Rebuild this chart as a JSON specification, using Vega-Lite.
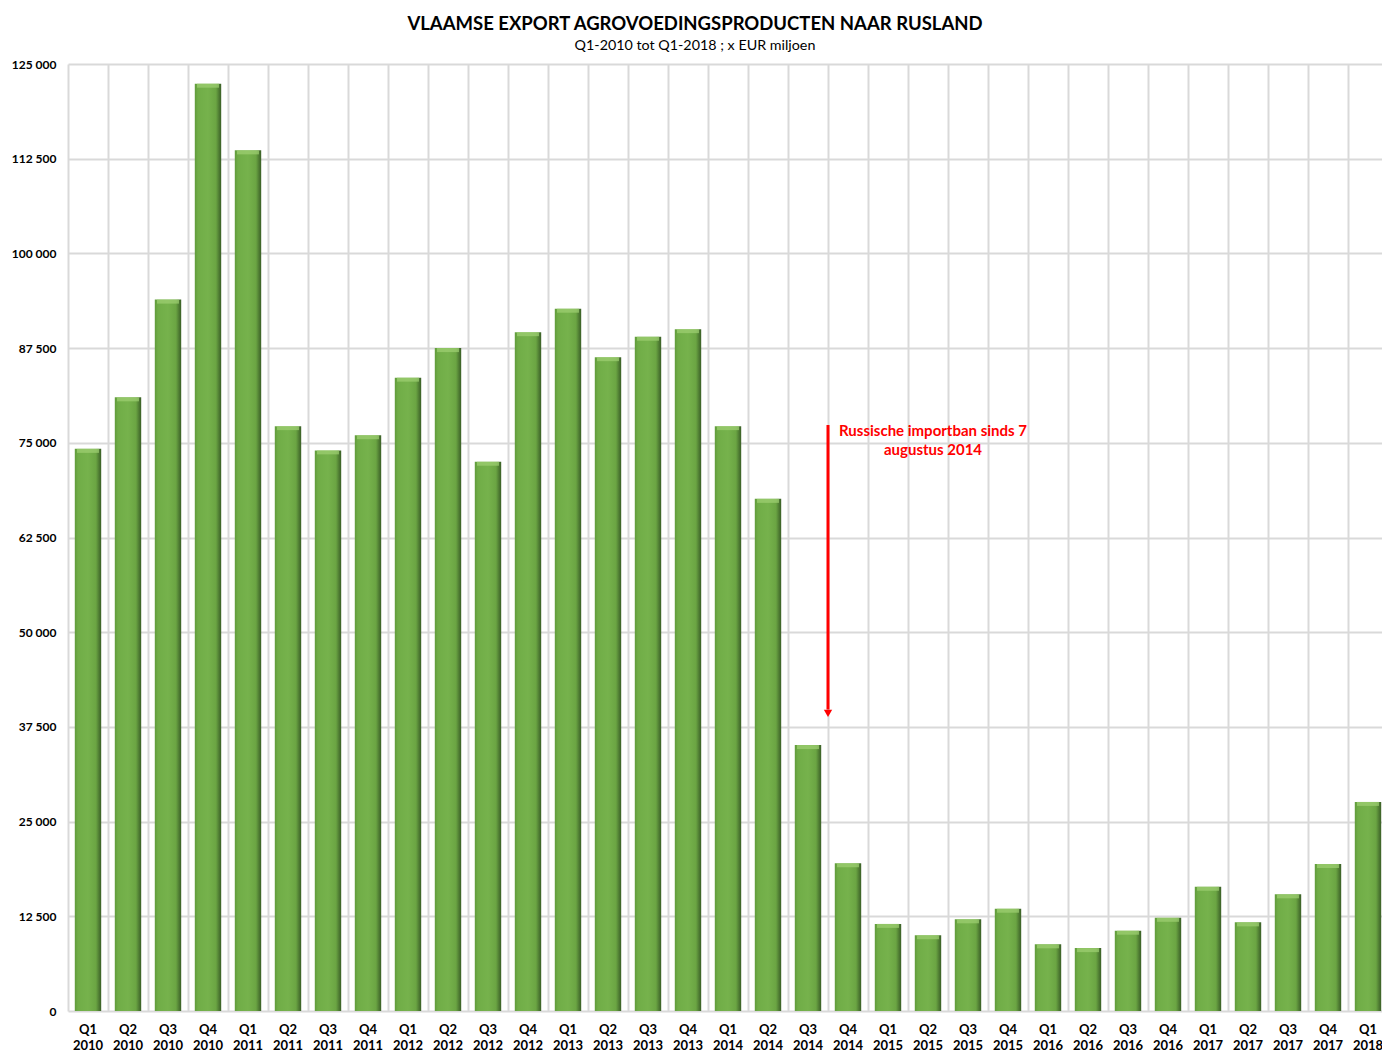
{
  "$schema": "https://vega.github.io/schema/vega-lite/v6.json",
  "width": 1314,
  "height": 947,
  "autosize": {"type": "none"},
  "padding": {"left": 68, "top": 64, "right": 0, "bottom": 41},
  "background": "white",
  "config": {"font": "Lato", "view": {"stroke": null}},
  "title": {
    "text": "VLAAMSE EXPORT AGROVOEDINGSPRODUCTEN NAAR RUSLAND",
    "subtitle": "Q1-2010 tot Q1-2018 ; x EUR miljoen",
    "anchor": "middle",
    "dx": -30,
    "offset": 5,
    "font": "Lato",
    "fontSize": 18.5,
    "fontWeight": "bold",
    "color": "#000000",
    "subtitleFont": "Lato",
    "subtitleFontSize": 14.3,
    "subtitleColor": "#000000",
    "subtitlePadding": 5
  },
  "datasets": {
    "main": [
      {"q": "Q1 2010", "v": 74200},
      {"q": "Q2 2010", "v": 81000},
      {"q": "Q3 2010", "v": 93900},
      {"q": "Q4 2010", "v": 122400},
      {"q": "Q1 2011", "v": 113600},
      {"q": "Q2 2011", "v": 77200},
      {"q": "Q3 2011", "v": 74000},
      {"q": "Q4 2011", "v": 76000},
      {"q": "Q1 2012", "v": 83600},
      {"q": "Q2 2012", "v": 87500},
      {"q": "Q3 2012", "v": 72500},
      {"q": "Q4 2012", "v": 89600},
      {"q": "Q1 2013", "v": 92700},
      {"q": "Q2 2013", "v": 86300},
      {"q": "Q3 2013", "v": 89000},
      {"q": "Q4 2013", "v": 90000},
      {"q": "Q1 2014", "v": 77200},
      {"q": "Q2 2014", "v": 67600},
      {"q": "Q3 2014", "v": 35100},
      {"q": "Q4 2014", "v": 19500},
      {"q": "Q1 2015", "v": 11500},
      {"q": "Q2 2015", "v": 10000},
      {"q": "Q3 2015", "v": 12100},
      {"q": "Q4 2015", "v": 13500},
      {"q": "Q1 2016", "v": 8800},
      {"q": "Q2 2016", "v": 8300},
      {"q": "Q3 2016", "v": 10600},
      {"q": "Q4 2016", "v": 12300},
      {"q": "Q1 2017", "v": 16400},
      {"q": "Q2 2017", "v": 11700},
      {"q": "Q3 2017", "v": 15400},
      {"q": "Q4 2017", "v": 19400},
      {"q": "Q1 2018", "v": 27600}
    ],
    "arrow": [{"q": "Q4 2014", "top": 77350, "bottom": 39800, "tip": 39300}],
    "note": [{"q": "Q2 2015", "y": 75900, "t": "Russische importban sinds 7\naugustus 2014"}]
  },
  "layer": [
    {
      "data": {"name": "main"},
      "mark": {
        "type": "bar",
        "width": {"band": 0.66},
        "color": {
          "gradient": "linear",
          "x1": 0, "y1": 0, "x2": 1, "y2": 0,
          "stops": [
            {"offset": 0, "color": "#5f9a3a"},
            {"offset": 0.12, "color": "#70ad47"},
            {"offset": 0.5, "color": "#76b24c"},
            {"offset": 0.8, "color": "#6ba543"},
            {"offset": 1, "color": "#3a5e27"}
          ]
        }
      },
      "encoding": {
        "x": {
          "field": "q",
          "type": "nominal",
          "sort": null,
          "scale": {"paddingInner": 0, "paddingOuter": 0, "range": [0, 1320]},
          "axis": {
            "title": null,
            "labelAngle": 0,
            "labelExpr": "split(datum.label, ' ')",
            "labelFont": "Lato",
            "labelFontSize": 13,
            "labelFontWeight": "bold",
            "labelColor": "#000000",
            "labelLineHeight": 16,
            "labelPadding": 12,
            "ticks": false,
            "domain": false,
            "grid": true,
            "bandPosition": 0,
            "gridColor": "#d9d9d9",
            "gridWidth": 2
          }
        },
        "y": {
          "field": "v",
          "type": "quantitative",
          "scale": {"domain": [0, 125000], "nice": false},
          "axis": {
            "title": null,
            "values": [0, 12500, 25000, 37500, 50000, 62500, 75000, 87500, 100000, 112500, 125000],
            "labelExpr": "replace(format(datum.value, ','), ',', ' ')",
            "labelFont": "Lato",
            "labelFontSize": 12,
            "labelFontWeight": "bold",
            "labelColor": "#000000",
            "labelPadding": 12,
            "ticks": false,
            "domain": false,
            "grid": true,
            "gridColor": "#d9d9d9",
            "gridWidth": 2
          }
        }
      }
    },
    {
      "data": {"name": "main"},
      "mark": {"type": "tick", "color": "#9fd073", "thickness": 4, "size": 22, "yOffset": 2},
      "encoding": {
        "x": {"field": "q", "type": "nominal", "sort": null},
        "y": {"field": "v", "type": "quantitative"}
      }
    },
    {
      "data": {"name": "arrow"},
      "mark": {"type": "rule", "color": "#ff0000", "strokeWidth": 3, "xOffset": 0},
      "encoding": {
        "x": {"field": "q", "type": "nominal", "sort": null, "bandPosition": 0},
        "y": {"field": "top", "type": "quantitative"},
        "y2": {"field": "bottom"}
      }
    },
    {
      "data": {"name": "arrow"},
      "mark": {"type": "point", "shape": "triangle-down", "filled": true, "color": "#ff0000", "opacity": 1, "size": 70, "xOffset": 0},
      "encoding": {
        "x": {"field": "q", "type": "nominal", "sort": null, "bandPosition": 0},
        "y": {"field": "tip", "type": "quantitative"}
      }
    },
    {
      "data": {"name": "note"},
      "mark": {"type": "text", "color": "#ff0000", "font": "Lato", "fontSize": 15, "fontWeight": "bold", "align": "center", "baseline": "alphabetic", "lineBreak": "\n", "lineHeight": 19, "dx": 5},
      "encoding": {
        "x": {"field": "q", "type": "nominal", "sort": null},
        "y": {"field": "y", "type": "quantitative"},
        "text": {"field": "t"}
      }
    }
  ]
}
